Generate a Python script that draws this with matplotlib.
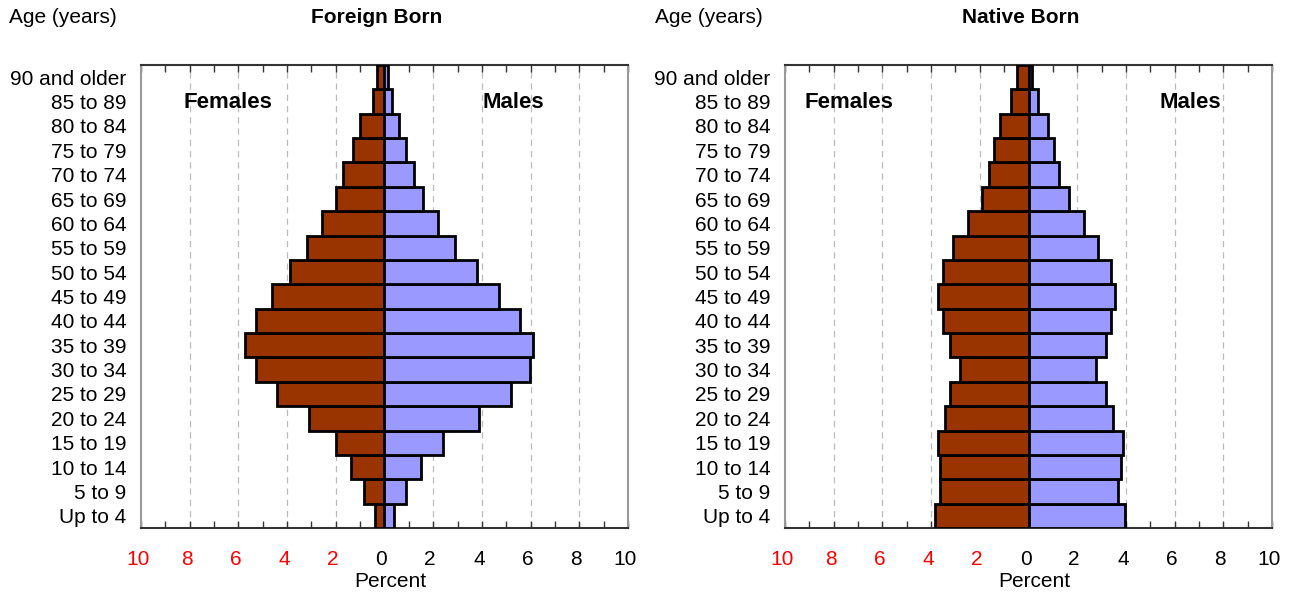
import numpy as np
import matplotlib
matplotlib.use('Agg')
import matplotlib.pyplot as plt
import matplotlib.transforms as mtransforms
from matplotlib.ticker import MultipleLocator

plt.rcParams['font.family'] = ['Liberation Sans', 'DejaVu Sans']

# Age groups, bottom to top
ageGroups = ['Up to 4', '5 to 9', '10 to 14', '15 to 19', '20 to 24', '25 to 29',
             '30 to 34', '35 to 39', '40 to 44', '45 to 49', '50 to 54', '55 to 59',
             '60 to 64', '65 to 69', '70 to 74', '75 to 79', '80 to 84', '85 to 89',
             '90 and older']

# Percent of population, bottom to top
foreignFemales = [0.38, 0.86, 1.39, 1.99, 3.09, 4.40, 5.28, 5.71, 5.28, 4.60,
                  3.88, 3.18, 2.57, 1.99, 1.71, 1.30, 1.00, 0.49, 0.32]
foreignMales = [0.40, 0.89, 1.51, 2.40, 3.90, 5.20, 5.99, 6.10, 5.58, 4.70,
                3.80, 2.88, 2.19, 1.60, 1.21, 0.89, 0.60, 0.30, 0.15]
nativeFemales = [3.83, 3.62, 3.62, 3.72, 3.42, 3.21, 2.80, 3.21, 3.52, 3.72,
                 3.50, 3.10, 2.50, 1.93, 1.61, 1.41, 1.19, 0.70, 0.49]
nativeMales = [3.98, 3.67, 3.78, 3.87, 3.48, 3.18, 2.76, 3.18, 3.37, 3.57,
               3.37, 2.87, 2.28, 1.67, 1.26, 1.05, 0.78, 0.37, 0.16]

tickValues = [-10, -8, -6, -4, -2, 0, 2, 4, 6, 8, 10]
tickLabels = ['10', '8', '6', '4', '2', '0', '2', '4', '6', '8', '10']

femaleColor = '#993300'
maleColor = '#9999FF'

fig = plt.figure(figsize=(12.91, 5.95), dpi=100)


def drawPyramid(left, females, males, title, femLabelX, maleLabelX, titleX, ageX):
    ax = fig.add_axes([left, 0.1126, 0.3772, 0.7782])
    y = np.arange(len(ageGroups))
    ax.barh(y, -np.array(females), height=1.0, color=femaleColor,
            edgecolor='black', linewidth=2.0, zorder=3)
    ax.barh(y, males, height=1.0, color=maleColor,
            edgecolor='black', linewidth=2.0, zorder=3)

    ax.set_xlim(-10, 10)
    ax.set_ylim(-0.5, len(ageGroups) - 0.5)

    # Dashed grid at the major ticks
    for v in [-8, -6, -4, -2, 2, 4, 6, 8]:
        ax.axvline(v, color='#bbbbbb', linestyle=(0, (5, 4)), linewidth=0.9, zorder=1)

    ax.set_xticks(tickValues)
    ax.set_xticklabels(tickLabels, fontsize=15)
    ax.xaxis.set_minor_locator(MultipleLocator(1))
    ax.tick_params(axis='x', which='both', direction='in', length=5, width=1,
                   top=True, bottom=True, pad=16, color='#333333')
    shift = mtransforms.ScaledTranslation(-3 / 100, 0, fig.dpi_scale_trans)
    for lab, v in zip(ax.get_xticklabels(), tickValues):
        lab.set_color('red' if v < 0 else 'black')
        lab.set_transform(lab.get_transform() + shift)

    ax.set_yticks(y)
    ax.set_yticklabels(ageGroups, fontsize=15)
    ax.tick_params(axis='y', length=0, pad=10.5)

    ax.set_xlabel('Percent', fontsize=15, labelpad=3)
    ax.xaxis.set_label_coords(0.512, -0.095)

    ax.spines['left'].set_color('#999999')
    ax.spines['right'].set_color('#999999')
    ax.spines['top'].set_color('#333333')
    ax.spines['bottom'].set_color('#333333')
    for s in ax.spines.values():
        s.set_linewidth(1.5)

    ax.text(femLabelX, 16.95, 'Females', fontsize=16, fontweight='bold',
            ha='center', va='center', zorder=4)
    ax.text(maleLabelX, 16.95, 'Males', fontsize=16, fontweight='bold',
            ha='center', va='center', zorder=4)

    fig.text(titleX, 0.971, title, fontsize=15, fontweight='bold',
             ha='center', va='center')
    fig.text(ageX, 0.971, 'Age (years)', fontsize=15, ha='left', va='center')
    return ax


drawPyramid(0.1092, foreignFemales, foreignMales, 'Foreign Born', -6.44, 5.3, 0.292, 0.007)
drawPyramid(0.6081, nativeFemales, nativeMales, 'Native Born', -7.38, 6.64, 0.791, 0.507)

fig.savefig('out.png', dpi=100)
